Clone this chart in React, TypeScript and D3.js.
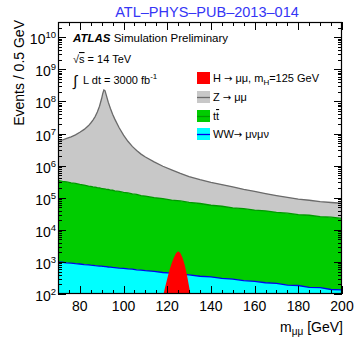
import React from "react";
import * as d3 from "d3";

// Di-muon invariant mass bins (GeV)
const masses = [70, 72, 74, 76, 78, 80, 82, 84, 85, 86, 87, 88, 89, 90, 90.5, 91, 91.5, 92, 93, 94, 95, 96, 98, 100, 102, 104, 106, 108, 110, 114, 118, 122, 126, 130, 135, 140, 145, 150, 155, 160, 165, 170, 175, 180, 185, 190, 195, 200];

// WW -> mu nu mu nu
const wwEvents = [1000, 975, 935, 915, 880, 860, 825, 808, 790, 782, 765, 757, 740, 735, 724, 722, 713, 712, 695, 690, 676, 668, 642, 630, 604, 592, 566, 556, 532, 507, 468, 448, 414, 396, 358, 340, 305, 290, 262, 249, 224, 213, 190, 184, 160, 158, 138, 134];

// ttbar
const ttEvents = [345700, 325000, 311000, 290500, 278500, 260500, 248000, 231000, 227000, 217500, 213500, 205000, 201500, 193000, 192500, 188000, 187500, 182500, 180000, 172500, 170500, 163500, 157000, 146000, 140500, 130500, 126000, 116500, 112500, 100500, 93800, 84000, 79200, 71200, 65700, 58000, 54000, 48100, 45400, 41000, 38800, 34800, 32900, 29600, 28300, 25700, 24700, 22600];

// Z -> mu mu
const zEvents = [5276000, 5982000, 6769000, 7649000, 8842000, 10700000, 13240000, 17550000, 21150000, 26080000, 33670000, 46560000, 70600000, 125700000, 177600000, 228900000, 218600000, 165800000, 95300000, 60090000, 39640000, 28010000, 14980000, 8765000, 5614000, 3849000, 2826000, 2172000, 1750000, 1216000, 862000, 655800, 496700, 384700, 297800, 243100, 203300, 169800, 136800, 116800, 96400, 82000, 69600, 61000, 55000, 49600, 46300, 44700];

// H -> mu mu signal, mH = 125 GeV
const higgsMasses = [116, 117, 118, 119, 120, 121, 122, 123, 124, 125, 126, 127, 128, 129, 130, 131, 132];
const higgsEvents = [20, 40, 80, 160, 300, 550, 900, 1350, 1850, 2150, 1900, 1350, 800, 400, 170, 70, 30];

const xTicks = [80, 100, 120, 140, 160, 180, 200];
const yTickExponents = [2, 3, 4, 5, 6, 7, 8, 9, 10];

const X0 = 58, X1 = 342, Y0 = 22, Y1 = 294;
const FONT = "'Liberation Sans', Arial, Helvetica, sans-serif";
const SYM = "'DejaVu Sans', sans-serif";

export default function App() {
  const x = d3.scaleLinear().domain([70, 200]).range([X0, X1]);
  const y = d3.scaleLog().domain([100, 3e10]).range([Y1, Y0]);

  const rows = masses.map((m, i) => ({ m, ww: wwEvents[i], tt: ttEvents[i], z: zEvents[i] }));
  const stacked = d3.stack<any>().keys(["ww", "tt", "z"])(rows);

  const area = d3
    .area<any>()
    .x((d) => x(d.data.m))
    .y0((d) => (d[0] <= 0 ? Y1 + 10 : y(d[0])))
    .y1((d) => y(d[1]));
  const topLine = d3
    .line<any>()
    .x((d) => x(d.data.m))
    .y((d) => y(d[1]));

  const higgsRows = higgsMasses.map((m, i) => ({ m, v: higgsEvents[i] }));
  const higgsArea = d3
    .area<any>()
    .x((d) => x(d.m))
    .y0(Y1 + 10)
    .y1((d) => y(Math.max(d.v, 1)));

  const fills = ["#00ffff", "#00cc00", "#c8c8c8"];
  const strokes = ["#0000ee", "#009900", "#6a6a6a"];

  const xMinor = d3.range(70, 201, 5);
  const yMinor: number[] = [];
  for (let e = 2; e <= 10; e++) {
    for (let k = 2; k <= 9; k++) {
      const v = k * Math.pow(10, e);
      if (v <= 3e10) yMinor.push(v);
    }
  }

  const legend = [
    { fill: "#ff0000", line: null },
    { fill: "#c8c8c8", line: "#6a6a6a" },
    { fill: "#00cc00", line: "#009900" },
    { fill: "#00ffff", line: "#0000ee" },
  ];
  const legendY = [78, 97, 116, 134];

  return (
    <svg width={356} height={340} style={{ display: "block", position: "absolute", left: 0, top: 0 }} fontFamily={FONT}>
      <rect x={0} y={0} width={356} height={340} fill="#fff" />
      <defs>
        <clipPath id="plotClip">
          <rect x={X0} y={Y0} width={X1 - X0} height={Y1 - Y0} />
        </clipPath>
      </defs>
      <g clipPath="url(#plotClip)">
        {stacked.map((s, i) => (
          <path key={"a" + i} d={area(s) || ""} fill={fills[i]} />
        ))}
        {stacked.map((s, i) => (
          <path key={"l" + i} d={topLine(s) || ""} fill="none" stroke={strokes[i]} strokeWidth={1.3} />
        ))}
        <path d={higgsArea(higgsRows) || ""} fill="#ff0000" />
      </g>

      <g stroke="#000" strokeWidth={1}>
        {xMinor.map((v) => {
          const major = v % 20 === 0;
          const len = major ? 8 : 4;
          const px = Math.round(x(v)) + 0.5;
          return (
            <g key={"xt" + v}>
              <line x1={px} x2={px} y1={Y1} y2={Y1 - len} />
              <line x1={px} x2={px} y1={Y0} y2={Y0 + len} />
            </g>
          );
        })}
        {yMinor.map((v) => {
          const py = Math.round(y(v)) + 0.5;
          return (
            <g key={"ym" + v}>
              <line x1={X0} x2={X0 + 4} y1={py} y2={py} />
              <line x1={X1} x2={X1 - 4} y1={py} y2={py} />
            </g>
          );
        })}
        {yTickExponents.map((e) => {
          const py = Math.round(y(Math.pow(10, e))) + 0.5;
          return (
            <g key={"yM" + e}>
              <line x1={X0} x2={X0 + 8} y1={py} y2={py} />
              <line x1={X1} x2={X1 - 8} y1={py} y2={py} />
            </g>
          );
        })}
      </g>
      <rect x={X0 + 0.5} y={Y0 + 0.5} width={X1 - X0 - 1} height={Y1 - Y0 - 1} fill="none" stroke="#000" strokeWidth={1.2} />

      {xTicks.map((v) => (
        <text key={"xl" + v} x={x(v)} y={311} fontSize={14} textAnchor="middle" fill="#000">
          {v}
        </text>
      ))}
      {yTickExponents.map((e) => (
        <text key={"yl" + e} x={56} y={y(Math.pow(10, e)) + 7} fontSize={14} textAnchor="end" fill="#000">
          10
          <tspan fontSize={9.5} dy={-6}>{e}</tspan>
        </text>
      ))}

      <text x={343} y={332} fontSize={14} textAnchor="end" fill="#000">
        m<tspan fontSize={10} dy={3}>μμ</tspan>
        <tspan dy={-3}> [GeV]</tspan>
      </text>
      <text transform="translate(24,20) rotate(-90)" fontSize={14} textAnchor="end" fill="#000">
        Events / 0.5 GeV
      </text>

      <text x={207} y={17} fontSize={14.5} textAnchor="middle" fill="#3535f5">
        ATL–PHYS–PUB–2013–014
      </text>

      <text x={73} y={42} fontSize={11.5} fill="#000">
        <tspan fontWeight="bold" fontStyle="italic">ATLAS</tspan> Simulation Preliminary
      </text>
      <text x={73} y={63} fontSize={11} fill="#000">
        √<tspan textDecoration="overline">s</tspan> = 14 TeV
      </text>
      <text x={73} y={86} fontSize={15} fill="#000">∫</text>
      <text x={83} y={84} fontSize={11} fill="#000">
        L dt = 3000 fb<tspan fontSize={8} dy={-5}>-1</tspan>
      </text>

      {legend.map((l, i) => (
        <g key={"lg" + i}>
          <rect x={197} y={legendY[i] - 6} width={13} height={12} fill={l.fill} />
          {l.line && <line x1={197} x2={210} y1={legendY[i] + 0.5} y2={legendY[i] + 0.5} stroke={l.line} strokeWidth={1.3} />}
        </g>
      ))}
      <text x={213} y={legendY[0] + 4} fontSize={11} fill="#000">
        H <tspan fontFamily={SYM} fontSize={10}>→</tspan> μμ, m<tspan fontSize={8} dy={3}>H</tspan>
        <tspan dy={-3}>=125 GeV</tspan>
      </text>
      <text x={213} y={legendY[1] + 4} fontSize={11} fill="#000">
        Z <tspan fontFamily={SYM} fontSize={10}>→</tspan> μμ
      </text>
      <text x={213} y={legendY[2] + 4} fontSize={11} fill="#000">
        t<tspan textDecoration="overline">t</tspan>
      </text>
      <text x={213} y={legendY[3] + 4} fontSize={11} fill="#000">
        WW<tspan fontFamily={SYM} fontSize={10}>→</tspan> μνμν
      </text>
    </svg>
  );
}
